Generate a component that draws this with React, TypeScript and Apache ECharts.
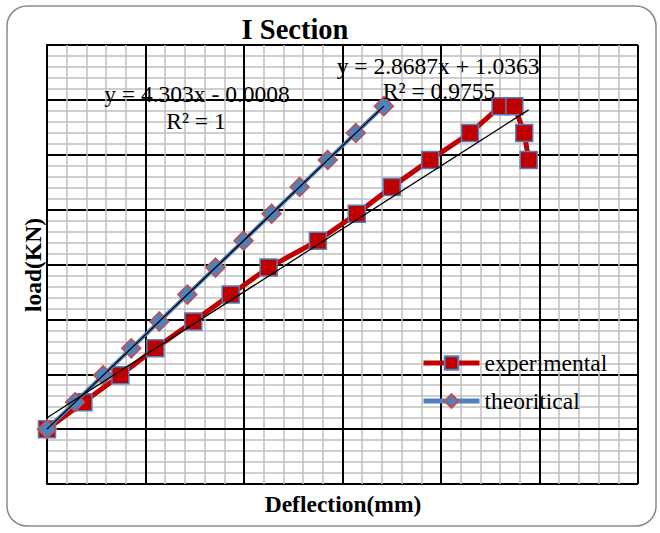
import React, { useEffect, useRef } from "react";
import * as echarts from "echarts";

// Experimental data (deflection mm, load kN)
const expDeflection = [0, 0.74, 1.49, 2.2, 2.97, 3.73, 4.5, 5.5, 6.29, 7.0, 7.78, 8.59, 9.21, 9.49, 9.69, 9.78];
const expLoad = [0, 2.45, 4.91, 7.36, 9.81, 12.26, 14.72, 17.17, 19.62, 22.07, 24.53, 26.98, 29.43, 29.43, 26.98, 24.53];

// Theoretical data
const theoDeflection = [0, 0.57, 1.14, 1.71, 2.28, 2.85, 3.42, 3.99, 4.56, 5.13, 5.7, 6.27, 6.84];
const theoLoad = [0, 2.45, 4.91, 7.36, 9.81, 12.26, 14.72, 17.17, 19.62, 22.07, 24.53, 26.98, 29.43];

// Trendline equations as shown on the chart
const expTrend = { slope: 2.8687, intercept: 1.0363, label: "y = 2.8687x + 1.0363", r2: "R² = 0.9755" };
const theoTrend = { slope: 4.303, intercept: -0.0008, label: "y = 4.303x - 0.0008", r2: "R² = 1" };

const seriesNames = ["experimental", "theoritical"];
const chartTitle = "I Section";
const xTitle = "Deflection(mm)";
const yTitle = "load(KN)";

const FONT = "'Liberation Serif', 'Times New Roman', serif";

function trendPoints(t: { slope: number; intercept: number }, xs: number[]) {
  const x0 = Math.min(...xs);
  const x1 = Math.max(...xs);
  return [
    [x0, t.slope * x0 + t.intercept],
    [x1, t.slope * x1 + t.intercept],
  ];
}

export default function App() {
  const ref = useRef<HTMLDivElement>(null);

  useEffect(() => {
    if (!ref.current) return;
    const chart = echarts.init(ref.current, undefined, { renderer: "svg" });

    const expData = expDeflection.map((x, i) => [x, expLoad[i]]);
    const theoData = theoDeflection.map((x, i) => [x, theoLoad[i]]);

    const axisCommon = {
      type: "value" as const,
      axisLine: { show: true, lineStyle: { color: "#000", width: 2 } },
      axisTick: { show: false },
      axisLabel: { show: false },
      splitLine: { show: true, lineStyle: { color: "#000", width: 2 } },
      minorTick: { show: false, splitNumber: 5 },
      minorSplitLine: { show: true, lineStyle: { color: "#BFBFBF", width: 1.5 } },
    };

    chart.setOption({
      animation: false,
      backgroundColor: "#fff",
      grid: { left: 47, top: 45, right: 22, bottom: 49 },
      xAxis: { ...axisCommon, min: 0, max: 12, interval: 2 },
      yAxis: { ...axisCommon, min: -5, max: 35, interval: 5 },
      legend: {
        data: [
          { name: seriesNames[0], lineStyle: { width: 5, color: "#C00000" } },
          { name: seriesNames[1], lineStyle: { width: 5, color: "#4F81BD" } },
        ],
        orient: "vertical",
        left: 421,
        top: 351,
        padding: 0,
        itemWidth: 56,
        itemHeight: 17,
        itemGap: 14,
        textStyle: { fontFamily: FONT, fontSize: 23.5, lineHeight: 24, color: "#000" },
      },
      graphic: [
        {
          type: "rect",
          shape: { x: 7, y: 6, width: 649, height: 520, r: 20 },
          style: { fill: "none", stroke: "#8a8a8a", lineWidth: 1.5 },
          z: -10,
          silent: true,
        },
        {
          type: "text",
          x: 295,
          y: 29,
          style: { text: chartTitle, font: `bold 28.5px ${FONT}`, fill: "#000", align: "center", verticalAlign: "middle" },
        },
        {
          type: "text",
          x: 343,
          y: 504,
          style: { text: xTitle, font: `bold 23.5px ${FONT}`, fill: "#000", align: "center", verticalAlign: "middle" },
        },
        {
          type: "text",
          x: 33,
          y: 265,
          rotation: Math.PI / 2,
          style: { text: yTitle, font: `bold 23.5px ${FONT}`, fill: "#000", align: "center", verticalAlign: "middle" },
        },
        {
          type: "text",
          x: 197,
          y: 94,
          z: 100,
          style: { text: theoTrend.label, font: `23.5px ${FONT}`, fill: "#000", align: "center", verticalAlign: "middle" },
        },
        {
          type: "text",
          x: 196,
          y: 121,
          z: 100,
          style: { text: theoTrend.r2, font: `23.5px ${FONT}`, fill: "#000", align: "center", verticalAlign: "middle" },
        },
        {
          type: "text",
          x: 438,
          y: 66,
          z: 100,
          style: { text: expTrend.label, font: `23.5px ${FONT}`, fill: "#000", align: "center", verticalAlign: "middle" },
        },
        {
          type: "text",
          x: 439,
          y: 91,
          z: 100,
          style: { text: expTrend.r2, font: `23.5px ${FONT}`, fill: "#000", align: "center", verticalAlign: "middle" },
        },
      ],
      series: [
        {
          name: seriesNames[0],
          type: "line",
          data: expData,
          symbol: "rect",
          symbolSize: 17,
          lineStyle: { color: "#C00000", width: 5 },
          itemStyle: { color: "#C00000", borderColor: "#4F81BD", borderWidth: 1.5 },
          z: 3,
        },
        {
          name: seriesNames[1],
          type: "line",
          data: theoData,
          symbol: "diamond",
          symbolSize: 19,
          lineStyle: { color: "#4F81BD", width: 4 },
          itemStyle: { color: "#4F81BD", borderColor: "#C0504D", borderWidth: 1.5 },
          z: 4,
        },
        {
          name: "expTrend",
          type: "line",
          data: trendPoints(expTrend, expDeflection),
          symbol: "none",
          lineStyle: { color: "#000", width: 1.3 },
          silent: true,
          z: 5,
        },
        {
          name: "theoTrend",
          type: "line",
          data: trendPoints(theoTrend, theoDeflection),
          symbol: "none",
          lineStyle: { color: "#000", width: 1.3 },
          silent: true,
          z: 5,
        },
      ],
    });

    return () => chart.dispose();
  }, []);

  return (
    <div
      ref={ref}
      style={{ position: "absolute", left: 0, top: 0, width: 660, height: 533, background: "#fff" }}
    />
  );
}
